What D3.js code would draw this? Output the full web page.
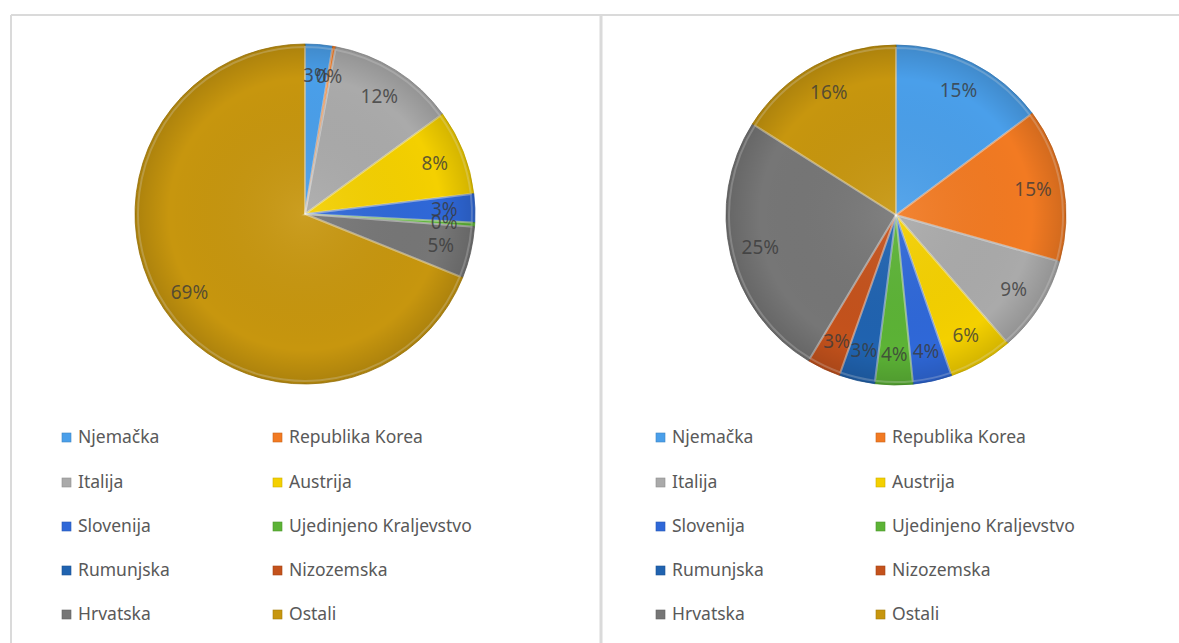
<!DOCTYPE html>
<html>
<head>
<meta charset="utf-8">
<script src="https://cdn.jsdelivr.net/npm/d3@7"></script>
<style>
  body { margin: 0; background: #fff; }
  .legendText { font-family: "Noto Sans", sans-serif; font-size: 17.5px; fill: #595959; }
  .sliceLabel { font-family: "Noto Sans", sans-serif; font-size: 19px; fill: #3a3a3a; fill-opacity: 0.8; }
</style>
</head>
<body>
<div id="chart"></div>
<script>
var svgWidth = 1179;
var svgHeight = 643;

// categories shared by both pies
var countries = ["Njemačka", "Republika Korea", "Italija", "Austrija", "Slovenija",
  "Ujedinjeno Kraljevstvo", "Rumunjska", "Nizozemska", "Hrvatska", "Ostali"];

// shares (%)
var leftValues = [2.6, 0.3, 12.1, 8.1, 2.7, 0.4, 0, 0, 4.9, 68.9];
var rightValues = [14.8, 14.6, 9.2, 6.1, 3.7, 3.6, 3.4, 3.2, 25.4, 16.0];

var sliceColors = ["#4a9fea", "#f27a22", "#aaaaaa", "#f4d000", "#2f68d8",
  "#5cb336", "#2063b0", "#c4521c", "#767676", "#c7960e"];

var svg = d3.select("#chart")
  .append("svg")
  .attr("width", svgWidth)
  .attr("height", svgHeight);

// panel borders
var borderColor = "#dadada";
svg.append("line").attr("x1", 11).attr("x2", svgWidth).attr("y1", 15).attr("y2", 15)
  .attr("stroke", borderColor).attr("stroke-width", 2);
svg.append("line").attr("x1", 11).attr("x2", 11).attr("y1", 15).attr("y2", svgHeight)
  .attr("stroke", borderColor).attr("stroke-width", 2);
svg.append("line").attr("x1", 601).attr("x2", 601).attr("y1", 15).attr("y2", svgHeight)
  .attr("stroke", borderColor).attr("stroke-width", 3);

var color = d3.scaleOrdinal().domain(countries).range(sliceColors);

// rim shading to fake the bevel look
var defs = svg.append("defs");
var shade = defs.append("radialGradient").attr("id", "rimShade");
shade.append("stop").attr("offset", "0%").attr("stop-color", "#fff").attr("stop-opacity", 0.08);
shade.append("stop").attr("offset", "80%").attr("stop-color", "#000").attr("stop-opacity", 0);
shade.append("stop").attr("offset", "100%").attr("stop-color", "#000").attr("stop-opacity", 0.14);

var radius = 170;

function drawPie(values, cx, cy) {
  var data = countries.map(function(c, i) { return { name: c, value: values[i] }; });
  var total = d3.sum(values);

  var pie = d3.pie().sort(null).value(d => d.value);
  var arc = d3.arc().innerRadius(0).outerRadius(radius);
  var labelArc = d3.arc().innerRadius(radius * 0.82).outerRadius(radius * 0.82);

  var g = svg.append("g").attr("transform", `translate(${cx}, ${cy})`);

  var arcs = pie(data).filter(d => d.data.value > 0);

  g.selectAll("path.slice")
    .data(arcs)
    .enter()
    .append("path")
    .classed("slice", true)
    .attr("d", arc)
    .attr("fill", d => color(d.data.name))
    .attr("stroke", d => d3.color(color(d.data.name)).darker(0.6))
    .attr("stroke-width", 0.8);

  // light inner edge on each slice
  g.selectAll("path.bevel")
    .data(arcs)
    .enter()
    .append("path")
    .classed("bevel", true)
    .attr("d", d3.arc().innerRadius(0).outerRadius(radius - 3))
    .attr("fill", "none")
    .attr("stroke", "#fff")
    .attr("stroke-opacity", 0.25)
    .attr("stroke-width", 2);

  g.append("circle")
    .attr("r", radius)
    .attr("fill", "url(#rimShade)")
    .attr("pointer-events", "none");

  g.selectAll("text.sliceLabel")
    .data(arcs)
    .enter()
    .append("text")
    .classed("sliceLabel", true)
    .attr("transform", d => `translate(${labelArc.centroid(d)})`)
    .attr("text-anchor", "middle")
    .attr("dy", "0.35em")
    .text(d => Math.round(d.data.value / total * 100) + "%");
}

function drawLegend(x0, x1) {
  var rowY = [437, 482, 526, 570, 614];
  var legend = svg.append("g");
  countries.forEach(function(c, i) {
    var x = i % 2 === 0 ? x0 : x1;
    var y = rowY[Math.floor(i / 2)];
    legend.append("rect")
      .attr("x", x)
      .attr("y", y - 4)
      .attr("width", 9)
      .attr("height", 9)
      .attr("fill", color(c))
      .attr("stroke", d3.color(color(c)).darker(0.5))
      .attr("stroke-width", 0.6);
    legend.append("text")
      .classed("legendText", true)
      .attr("x", x + 16)
      .attr("y", y)
      .attr("dy", "0.35em")
      .text(c);
  });
}

drawPie(leftValues, 305, 214);
drawPie(rightValues, 896, 215);

drawLegend(62, 273);
drawLegend(656, 876);
</script>
</body>
</html>
